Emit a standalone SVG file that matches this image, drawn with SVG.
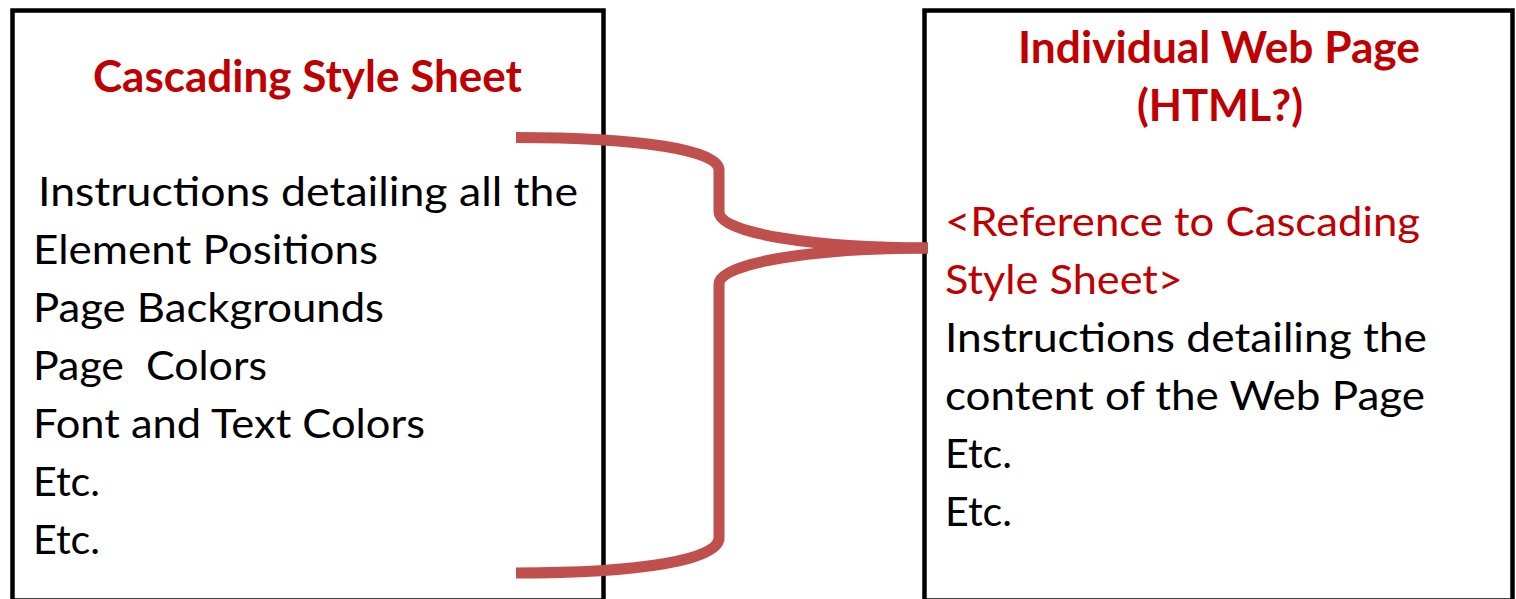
<svg xmlns="http://www.w3.org/2000/svg" width="1516" height="599" viewBox="0 0 1516 599">
<style>
.box{fill:#fff;stroke:#000;stroke-width:4.5}
.t{font-family:Lato,"Open Sans","Liberation Sans",sans-serif;font-size:41px;fill:#000}
.r{fill:#C00000}
.b{font-weight:bold;font-size:44px}
.c{fill:none;stroke:#C0504D;stroke-width:11;stroke-linejoin:round}
</style>
<rect width="1516" height="599" fill="#fff"/>
<g id="css">
<rect class="box" x="12.5" y="10.5" width="591" height="590"/>
<text class="t r b" x="93" y="92" textLength="429" lengthAdjust="spacingAndGlyphs">Cascading Style Sheet</text>
<text class="t" x="38" y="206" textLength="540" lengthAdjust="spacingAndGlyphs">Instructions detailing all the</text>
<text class="t" x="33" y="264" textLength="345" lengthAdjust="spacingAndGlyphs">Element Positions</text>
<text class="t" x="33" y="322" textLength="351" lengthAdjust="spacingAndGlyphs">Page Backgrounds</text>
<text class="t" x="33" y="380" textLength="234" lengthAdjust="spacingAndGlyphs" xml:space="preserve">Page  Colors</text>
<text class="t" x="33" y="438" textLength="392" lengthAdjust="spacingAndGlyphs">Font and Text Colors</text>
<text class="t" x="33" y="496" textLength="67" lengthAdjust="spacingAndGlyphs">Etc.</text>
<text class="t" x="33" y="554" textLength="67" lengthAdjust="spacingAndGlyphs">Etc.</text>
</g>
<g id="page">
<rect class="box" x="924.5" y="10.5" width="588" height="590"/>
<text class="t r b" x="1018" y="63" textLength="402" lengthAdjust="spacingAndGlyphs">Individual Web Page</text>
<text class="t r b" x="1137" y="121" textLength="166" lengthAdjust="spacingAndGlyphs">(HTML?)</text>
<text class="t r" x="945" y="236" textLength="475" lengthAdjust="spacingAndGlyphs">&lt;Reference to Cascading</text>
<text class="t r" x="945" y="294" textLength="238" lengthAdjust="spacingAndGlyphs">Style Sheet&gt;</text>
<text class="t" x="945" y="352" textLength="482" lengthAdjust="spacingAndGlyphs">Instructions detailing the</text>
<text class="t" x="945" y="410" textLength="480" lengthAdjust="spacingAndGlyphs">content of the Web Page</text>
<text class="t" x="945" y="468" textLength="67" lengthAdjust="spacingAndGlyphs">Etc.</text>
<text class="t" x="945" y="526" textLength="67" lengthAdjust="spacingAndGlyphs">Etc.</text>
</g>
<g id="connectors">
<path class="c" d="M516,137.5 C640,137.5 719,150 719,170 L719,212 C719,234 820,248 928,248"/>
<path class="c" d="M928,248 C820,248 719,262 719,284 L719,538 C719,560 640,573 516,573"/>
</g>
</svg>
